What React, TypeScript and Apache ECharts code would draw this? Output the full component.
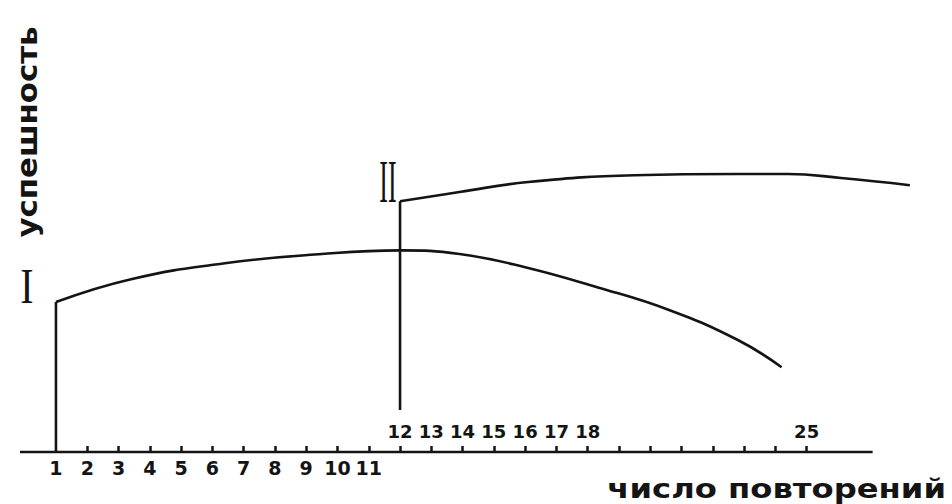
import React, { useEffect, useRef } from "react";
import * as echarts from "echarts";

// tick marks drawn on the axis (hand-drawn axis: 1..25)
const tickValues = [2, 3, 4, 5, 6, 7, 8, 9, 10, 11, 12, 13, 14, 15, 16, 17, 18, 19, 20, 21, 22, 23, 24, 25];
// labels written below the axis
const lowerLabels = [1, 2, 3, 4, 5, 6, 7, 8, 9, 10, 11];
// labels written above the axis
const upperLabels = [12, 13, 14, 15, 16, 17, 18, 25];
// extent of the drawn horizontal axis line
const axisLineX = [-0.15, 27.11];
const axisLineY = [0, 0];

// curve I
const curveIX = [1, 3.4, 6.4, 9.5, 12, 13.9, 16, 18.3, 20.6, 22.8, 24.2];
const curveIY = [37.5, 43.2, 47.2, 49.5, 50.4, 49.5, 46.2, 41.2, 35.5, 28, 21.2];
const verticalIX = [1, 1];
const verticalIY = [0, 37.5];

// curve II
const curveIIX = [12, 13.9, 16.1, 19.5, 22.8, 24.4, 26.1, 28.3];
const curveIIY = [62.7, 65, 67.5, 69.2, 69.5, 69.5, 68.5, 66.7];
const verticalIIX = [12, 12];
const verticalIIY = [10.5, 62.7];

const yTitle = "успешность";
const xTitle = "число повторений";
const labelI = "I";
const labelII = "II";

const zip = (xs: number[], ys: number[]) => xs.map((x, i) => [x, ys[i]]);

const INK = "#141414";

export default function App() {
  const ref = useRef<HTMLDivElement>(null);
  useEffect(() => {
    if (!ref.current) return;
    const chart = echarts.init(ref.current, null, { renderer: "svg" });
    const lineBase = {
      type: "line" as const,
      symbol: "none",
      lineStyle: { color: INK, width: 2.6 },
      clip: false,
      silent: true,
    };
    const X_MIN = -0.15;
    const X_MAX = 28.4;
    chart.setOption({
      animation: false,
      backgroundColor: "#ffffff",
      grid: { left: 20, right: 39, top: 52, bottom: 52, containLabel: false },
      xAxis: [
        {
          type: "value",
          min: X_MIN,
          max: X_MAX,
          position: "bottom",
          splitLine: { show: false },
          axisLine: { show: false },
          axisTick: {
            show: true,
            inside: true,
            length: 6,
            lineStyle: { color: INK, width: 2.5 },
            customValues: tickValues,
          },
          axisLabel: {
            show: true,
            margin: 6,
            color: INK,
            fontFamily: "DejaVu Sans",
            fontWeight: "bold",
            fontSize: 19,
            customValues: lowerLabels,
          },
        },
        {
          type: "value",
          min: X_MIN,
          max: X_MAX,
          position: "bottom",
          offset: 0,
          splitLine: { show: false },
          axisLine: { show: false },
          axisTick: { show: false },
          axisLabel: {
            show: true,
            inside: true,
            margin: 12,
            color: INK,
            fontFamily: "DejaVu Sans",
            fontWeight: "bold",
            fontSize: 18,
            customValues: upperLabels,
          },
        },
      ],
      yAxis: {
        type: "value",
        min: 0,
        max: 100,
        show: false,
      },
      series: [
        { ...lineBase, name: "axis", data: zip(axisLineX, axisLineY) },
        { ...lineBase, name: "I-vertical", data: zip(verticalIX, verticalIY) },
        { ...lineBase, name: "I", smooth: 0.45, data: zip(curveIX, curveIY) },
        { ...lineBase, name: "II-vertical", data: zip(verticalIIX, verticalIIY) },
        { ...lineBase, name: "II", smooth: 0.45, data: zip(curveIIX, curveIIY) },
      ],
      graphic: [
        {
          type: "text",
          x: 27,
          y: 132,
          rotation: Math.PI / 2,
          scaleX: 1.1,
          style: {
            text: yTitle,
            fill: INK,
            font: "bold 28px 'DejaVu Sans'",
            align: "center",
            verticalAlign: "middle",
          },
        },
        {
          type: "text",
          x: 946,
          y: 502,
          scaleX: 1.24,
          style: {
            text: xTitle,
            fill: INK,
            font: "bold 26px 'DejaVu Sans'",
            align: "right",
            verticalAlign: "bottom",
          },
        },
        {
          type: "text",
          x: 27,
          y: 286,
          scaleX: 0.8,
          style: {
            text: labelI,
            fill: INK,
            font: "50px 'Liberation Serif'",
            align: "center",
            verticalAlign: "middle",
          },
        },
        {
          type: "text",
          x: 388,
          y: 181,
          scaleX: 0.42,
          style: {
            text: labelII,
            fill: INK,
            font: "62px 'Liberation Serif'",
            align: "center",
            verticalAlign: "middle",
          },
        },
      ],
    });
    return () => chart.dispose();
  }, []);
  return <div ref={ref} style={{ width: 952, height: 504, position: "absolute", left: 0, top: 0 }} />;
}
